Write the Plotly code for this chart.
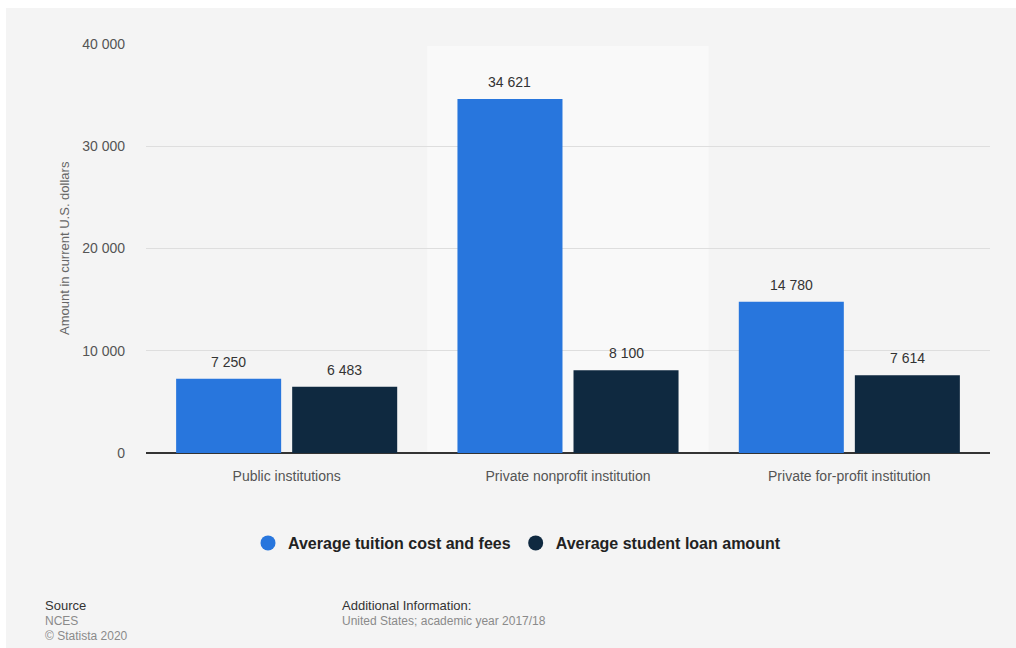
import plotly.graph_objects as go

# Data
categories = ["Public institutions", "Private nonprofit institution", "Private for-profit institution"]
tuition = [7250, 34621, 14780]
loans = [6483, 8100, 7614]
series_names = ["Average tuition cost and fees", "Average student loan amount"]
tick_vals = [0, 10000, 20000, 30000, 40000]
tick_text = ["0", "10 000", "20 000", "30 000", "40 000"]

BLUE = "#2876dd"
NAVY = "#0f2940"
FONT = "Liberation Sans, Arial, sans-serif"

W, H = 1016, 648
ML, MR, MT, MB = 146, 26, 44, 195
PW, PH = W - ML - MR, H - MT - MB

BARGAP = 0.175
BARGROUPGAP = 0.095


def px_x(p):
    return (p - ML) / PW


def px_y(p):
    return (H - MB - p) / PH


def fmt(v):
    return f"{v:,}".replace(",", " ")


fig = go.Figure()
series = [(tuition, BLUE, series_names[0]), (loans, NAVY, series_names[1])]
for vals, color, name in series:
    fig.add_trace(go.Bar(
        x=categories, y=vals, name=name, marker_color=color, marker_line_width=0,
        showlegend=False, hoverinfo="x+y",
    ))
    # circle swatch for the legend
    fig.add_trace(go.Scatter(
        x=[None], y=[None], mode="markers", name=name,
        marker=dict(symbol="circle", size=15, color=color),
    ))

# value labels placed above each bar of the group
slot = (1 - BARGAP) / len(series)
label_annotations = []
for s_idx, (vals, _, _) in enumerate(series):
    offset = -(1 - BARGAP) / 2 + slot * (s_idx + 0.5)
    for c_idx, v in enumerate(vals):
        label_annotations.append(dict(
            x=c_idx + offset, y=v, xref="x", yref="y", text=fmt(v), showarrow=False,
            yshift=17, xanchor="center", yanchor="middle",
            font=dict(family=FONT, size=14, color="#333333"),
        ))

shapes = [
    # grey card behind the chart
    dict(type="rect", xref="paper", yref="paper", x0=px_x(6), x1=px_x(1016),
         y0=px_y(648), y1=px_y(8), fillcolor="#f4f4f4", line_width=0, layer="below"),
    # highlighted middle category band
    dict(type="rect", xref="x", yref="paper", x0=0.5, x1=1.5, y0=0, y1=0.995,
         fillcolor="#f9f9f9", line_width=0, layer="below"),
]

annotations = label_annotations + [
    dict(text="Amount in current U.S. dollars", xref="paper", yref="paper",
         x=px_x(64), y=px_y(248), textangle=-90, showarrow=False,
         font=dict(family=FONT, size=13, color="#666666"), xanchor="center", yanchor="middle"),
    dict(text="Source", xref="paper", yref="paper", x=px_x(43), y=px_y(605),
         showarrow=False, xanchor="left", yanchor="middle",
         font=dict(family=FONT, size=13, color="#333333")),
    dict(text="NCES", xref="paper", yref="paper", x=px_x(43), y=px_y(621),
         showarrow=False, xanchor="left", yanchor="middle",
         font=dict(family=FONT, size=12, color="#8a8a8a")),
    dict(text="© Statista 2020", xref="paper", yref="paper", x=px_x(43), y=px_y(636),
         showarrow=False, xanchor="left", yanchor="middle",
         font=dict(family=FONT, size=12, color="#8a8a8a")),
    dict(text="Additional Information:", xref="paper", yref="paper", x=px_x(340), y=px_y(605),
         showarrow=False, xanchor="left", yanchor="middle",
         font=dict(family=FONT, size=13, color="#333333")),
    dict(text="United States; academic year 2017/18", xref="paper", yref="paper",
         x=px_x(340), y=px_y(621), showarrow=False, xanchor="left", yanchor="middle",
         font=dict(family=FONT, size=12, color="#8a8a8a")),
]

fig.update_layout(
    width=W, height=H,
    margin=dict(l=ML, r=MR, t=MT, b=MB),
    paper_bgcolor="#ffffff", plot_bgcolor="rgba(0,0,0,0)",
    barmode="group", bargap=BARGAP, bargroupgap=BARGROUPGAP,
    font=dict(family=FONT),
    shapes=shapes, annotations=annotations,
    legend=dict(orientation="h", x=px_x(517), y=px_y(543), xanchor="center", yanchor="middle",
                font=dict(family=FONT, size=16, color="#222222", weight="bold"),
                bgcolor="rgba(0,0,0,0)", itemwidth=30, tracegroupgap=0),
    xaxis=dict(type="category", showgrid=False, ticks="", showline=False,
               ticklabelstandoff=13,
               tickfont=dict(family=FONT, size=14, color="#555555"), range=[-0.5, 2.5]),
    yaxis=dict(range=[0, 40000], tickvals=tick_vals, ticktext=tick_text,
               showgrid=True, gridcolor="#dedede", gridwidth=1,
               zeroline=True, zerolinecolor="#333333", zerolinewidth=1.5,
               showline=False, ticks="", ticklabelstandoff=20,
               tickfont=dict(family=FONT, size=14, color="#555555")),
)

fig.write_html("out.html")
